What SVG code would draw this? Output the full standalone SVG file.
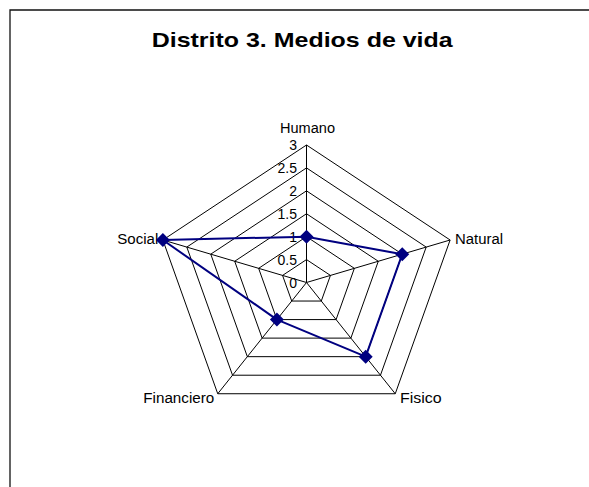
<svg xmlns="http://www.w3.org/2000/svg" width="589" height="487" viewBox="0 0 589 487">
<style>
.grid{fill:none;stroke:#000;stroke-width:1}
.lbl{font-family:"Liberation Sans",Arial,sans-serif;font-size:14px;fill:#000}
.num{font-family:"Liberation Sans",Arial,sans-serif;font-size:14px;fill:#000;text-anchor:end}
.series{fill:none;stroke:#000080;stroke-width:2;stroke-linejoin:round}
</style>
<defs>
<path id="dm" d="M0,-7 L7,0 L0,7 L-7,0 Z" fill="#000080"/>
</defs>
<rect width="589" height="487" fill="#fff"/>
<path d="M10,487 L10,10 L589,10" fill="none" stroke="#111" stroke-width="1.3"/>
<text id="title" x="151.7" y="47" font-family="'Liberation Sans',Arial,sans-serif" font-size="21" font-weight="bold" textLength="301" lengthAdjust="spacingAndGlyphs">Distrito 3. Medios de vida</text>
<g id="grid">
<polygon class="grid" points="306.5,259.58 330.44,275.42 321.29,301.04 291.71,301.04 282.56,275.42"/>
<polygon class="grid" points="306.5,236.67 354.37,268.34 336.09,319.58 276.91,319.58 258.63,268.34"/>
<polygon class="grid" points="306.5,213.75 378.31,261.26 350.88,338.12 262.12,338.12 234.69,261.26"/>
<polygon class="grid" points="306.5,190.83 402.24,254.17 365.67,356.67 247.33,356.67 210.76,254.17"/>
<polygon class="grid" points="306.5,167.92 426.18,247.09 380.46,375.21 232.54,375.21 186.82,247.09"/>
<polygon class="grid" points="306.5,145 450.11,240.01 395.26,393.74 217.74,393.74 162.89,240.01"/>
<path class="grid" d="M306.5,282.5 L306.5,145 M306.5,282.5 L450.11,240.01 M306.5,282.5 L395.26,393.74 M306.5,282.5 L217.74,393.74 M306.5,282.5 L162.89,240.01"/>
</g>
<g id="scale">
<text class="num" x="297" y="287.5">0</text>
<text class="num" x="297" y="264.6">0.5</text>
<text class="num" x="297" y="241.7">1</text>
<text class="num" x="297" y="218.8">1.5</text>
<text class="num" x="297" y="195.8">2</text>
<text class="num" x="297" y="172.9">2.5</text>
<text class="num" x="297" y="150">3</text>
</g>
<g id="axis-labels">
<text id="humano" class="lbl" x="280" y="133" textLength="55" lengthAdjust="spacingAndGlyphs">Humano</text>
<text id="natural" class="lbl" x="455" y="244" textLength="48" lengthAdjust="spacingAndGlyphs">Natural</text>
<text id="fisico" class="lbl" x="400" y="403" textLength="41.7" lengthAdjust="spacingAndGlyphs">Fisico</text>
<text id="financiero" class="lbl" x="143.3" y="403" textLength="71" lengthAdjust="spacingAndGlyphs">Financiero</text>
<text id="social" class="lbl" x="117.3" y="244" textLength="41" lengthAdjust="spacingAndGlyphs">Social</text>
</g>
<g id="connectors">
<polygon class="series" points="306.5,236.67 402.24,254.17 365.67,356.67 276.91,319.58 162.89,240.01"/>
</g>
<g id="markers">
<use href="#dm" x="306.5" y="236.67"/>
<use href="#dm" x="402.24" y="254.17"/>
<use href="#dm" x="365.67" y="356.67"/>
<use href="#dm" x="276.91" y="319.58"/>
<use href="#dm" x="162.89" y="240.01"/>
</g>
</svg>
